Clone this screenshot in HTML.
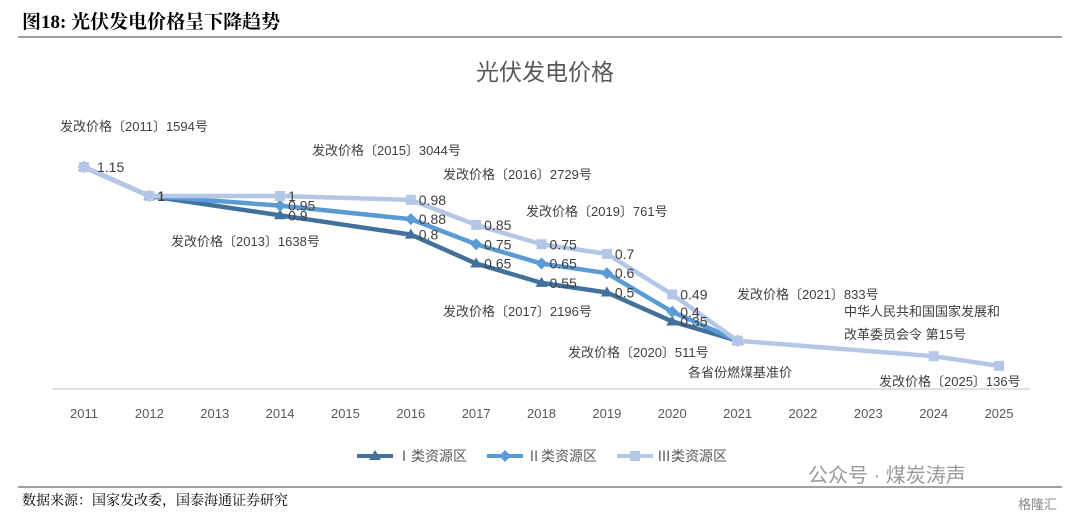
<!DOCTYPE html>
<html><head><meta charset="utf-8"><style>
body{margin:0;background:#fff;width:1080px;height:521px;overflow:hidden;font-family:"Liberation Sans","Noto Sans CJK SC",sans-serif}
</style></head><body>
<svg width="1080" height="521" id="svg">
<text x="22" y="28" font-family="Liberation Serif,Noto Serif CJK SC,serif" font-weight="bold" font-size="19" fill="#000">图18:  光伏发电价格呈下降趋势</text>
<line x1="18" y1="37" x2="1062" y2="37" stroke="#000" stroke-width="0.8"/>
<text x="545" y="80" text-anchor="middle" font-size="23" fill="#595959">光伏发电价格</text>
<line x1="52" y1="389" x2="1030" y2="389" stroke="#d9d9d9" stroke-width="1.5"/>
<g id="xt" font-size="13" fill="#595959" text-anchor="middle"></g>
<g id="lines"></g>
<g id="labels"></g>
<g font-size="13" fill="#404040">
<text x="60" y="131">发改价格〔2011〕1594号</text>
<text x="312" y="155">发改价格〔2015〕3044号</text>
<text x="443" y="179">发改价格〔2016〕2729号</text>
<text x="526" y="216">发改价格〔2019〕761号</text>
<text x="171" y="246">发改价格〔2013〕1638号</text>
<text x="443" y="316">发改价格〔2017〕2196号</text>
<text x="568" y="357">发改价格〔2020〕511号</text>
<text x="688" y="377">各省份燃煤基准价</text>
<text x="737" y="299">发改价格〔2021〕833号</text>
<text x="844" y="316">中华人民共和国国家发展和</text>
<text x="844" y="339">改革委员会令 第15号</text>
<text x="879" y="386">发改价格〔2025〕136号</text>
</g>
<g id="legend" font-size="14" fill="#595959"></g>
<text x="808" y="482" font-size="20" fill="#9a9a9a">公众号 · 煤炭涛声</text>
<text x="1018" y="509" font-size="13" fill="#888">格隆汇</text>
<line x1="18" y1="487" x2="1062" y2="487" stroke="#000" stroke-width="0.8"/>
<text x="22" y="505" font-family="Liberation Serif,Noto Serif CJK SC,serif" font-size="14" fill="#000">数据来源：国家发改委，国泰海通证券研究</text>
</svg>
<script>
const years=[2011,2012,2013,2014,2015,2016,2017,2018,2019,2020,2021,2022,2023,2024,2025];
const s1=[1.15,1,null,0.9,null,0.8,0.65,0.55,0.5,0.35,0.25,null,null,null,null];
const s2=[1.15,1,null,0.95,null,0.88,0.75,0.65,0.6,0.4,0.25,null,null,null,null];
const s3=[1.15,1,null,1,null,0.98,0.85,0.75,0.7,0.49,0.25,null,null,0.17,0.12];
const names=["Ⅰ类资源区","Ⅱ类资源区","Ⅲ类资源区"];
const NS="http://www.w3.org/2000/svg";
const X=i=>84+i*65.36, Y=v=>196+(1-v)*193;
function mk(t,a,p){const e=document.createElementNS(NS,t);for(const k in a)e.setAttribute(k,a[k]);p.appendChild(e);return e;}
const xt=document.getElementById('xt');
years.forEach((y,i)=>{const t=mk('text',{x:X(i),y:418},xt);t.textContent=y;

});
const L=document.getElementById('lines');
const LB=document.getElementById('labels');
const series=[[s1,'#41719c','tri',0],[s2,'#5b9bd5','di',1],[s3,'#b4c7e7','sq',2]];
series.forEach(([d,c,m,k])=>{
 const g=mk('g',{},L);
 
 
 const pts=[];d.forEach((v,i)=>{if(v!=null)pts.push(X(i)+','+Y(v));});
 const pl=mk('polyline',{points:pts.join(' '),fill:'none',stroke:c,'stroke-width':4.5,'stroke-linejoin':'round'},g);
 
 
 d.forEach((v,i)=>{if(v==null)return;const x=X(i),y=Y(v);let e;
  if(m=='sq')e=mk('rect',{x:x-5,y:y-5,width:10,height:10,fill:c},g);
  else if(m=='di')e=mk('polygon',{points:`${x},${y-6} ${x+6},${y} ${x},${y+6} ${x-6},${y}`,fill:c},g);
  else e=mk('polygon',{points:`${x},${y-6} ${x+6},${y+4} ${x-6},${y+4}`,fill:c},g);
  
  
  if(i>0&&i<=9 || (k==2&&i==0)){const t=mk('text',{x:x+(i==0?13:8),y:y+5,'font-size':14,fill:'#404040'},LB);t.textContent=v;
  
  }
 });
});
const lg=document.getElementById('legend');
[['#41719c','tri'],['#5b9bd5','di'],['#b4c7e7','sq']].forEach(([c,m],k)=>{
 const x0=357+k*130,y=456;
 const g=mk('g',{},lg);
 
 
 mk('line',{x1:x0,y1:y,x2:x0+36,y2:y,stroke:c,'stroke-width':4},g);
 const cx=x0+18;
 if(m=='sq')mk('rect',{x:cx-5,y:y-5,width:10,height:10,fill:c},g);
 else if(m=='di')mk('polygon',{points:`${cx},${y-6} ${cx+6},${y} ${cx},${y+6} ${cx-6},${y}`,fill:c},g);
 else mk('polygon',{points:`${cx},${y-6} ${cx+6},${y+4} ${cx-6},${y+4}`,fill:c},g);
 const t=mk('text',{x:x0+40,y:y+5},g);t.textContent=names[k];
});
</script>
</body></html>
